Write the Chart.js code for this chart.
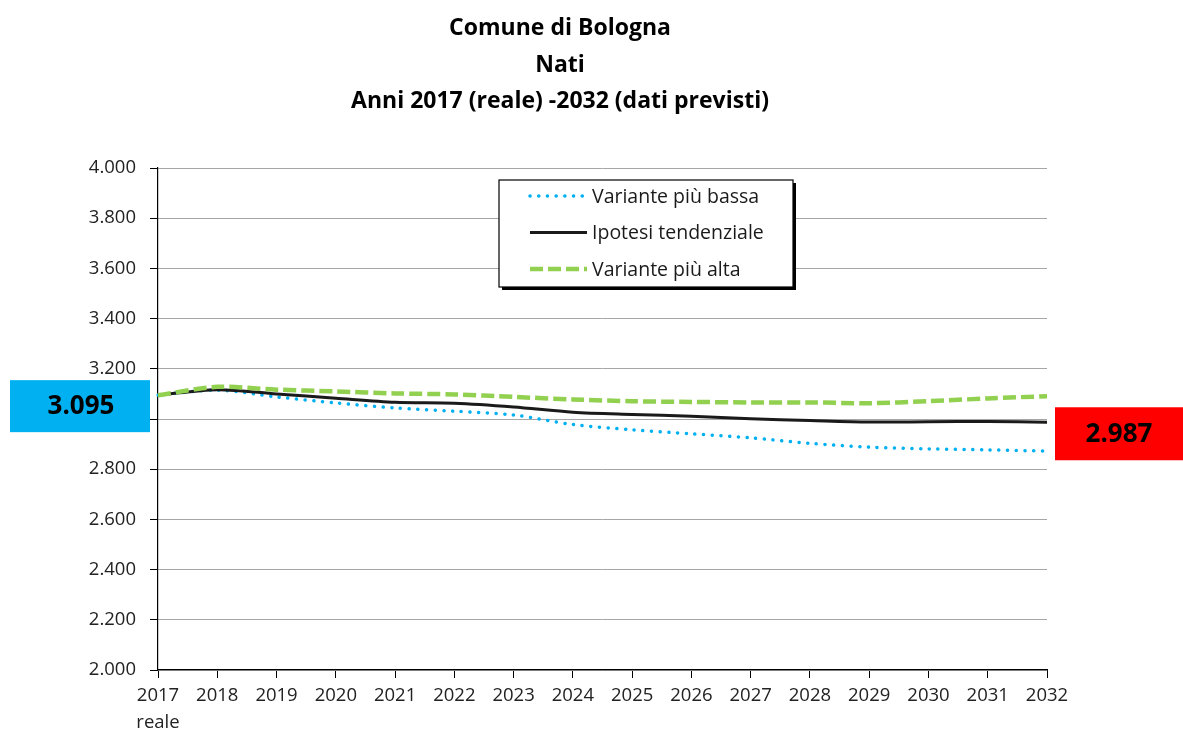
<!DOCTYPE html>
<html>
<head>
<meta charset="utf-8">
<script src="https://cdn.jsdelivr.net/npm/chart.js@4/dist/chart.umd.min.js"></script>
<style>
  html, body { margin: 0; padding: 0; background: #fff; }
  #wrap { width: 1183px; height: 731px; position: relative; }
</style>
</head>
<body>
<div id="wrap"><canvas id="natiChart"></canvas></div>
<script>
const years = ['2017', '2018', '2019', '2020', '2021', '2022', '2023', '2024',
  '2025', '2026', '2027', '2028', '2029', '2030', '2031', '2032'];

const bassa = [3095, 3115, 3088, 3064, 3044, 3031, 3016, 2978,
  2957, 2941, 2925, 2903, 2888, 2881, 2877, 2872];
const tendenziale = [3095, 3117, 3100, 3083, 3067, 3063, 3048, 3027,
  3018, 3011, 3001, 2994, 2988, 2989, 2990, 2987];
const alta = [3095, 3128, 3117, 3110, 3102, 3098, 3088, 3078,
  3071, 3068, 3066, 3066, 3063, 3071, 3082, 3091];

const seriesNames = ['Variante più bassa', 'Ipotesi tendenziale', 'Variante più alta'];
const titleLines = ['Comune di Bologna', 'Nati', 'Anni 2017 (reale) -2032 (dati previsti)'];

const FONT = "'Open Sans', 'Noto Sans', sans-serif";

// 4000 -> "4.000"
const fmt = v => Math.round(v).toString().replace(/\B(?=(\d{3})+(?!\d))/g, '.');

// title, legend box and the two value boxes
const extras = {
  id: 'extras',
  afterDraw(chart) {
    const { ctx, scales: { y } } = chart;
    ctx.save();

    // title
    ctx.fillStyle = '#000';
    ctx.font = 'bold 23px ' + FONT;
    ctx.textAlign = 'center';
    ctx.textBaseline = 'alphabetic';
    titleLines.forEach((t, i) => ctx.fillText(t, 560, 35 + i * 36.5));

    // legend
    const lx = 499, ly = 180, lw = 294, lh = 107;
    ctx.fillStyle = '#000';
    ctx.fillRect(lx + 3, ly + 3, lw, lh);
    ctx.fillStyle = '#fff';
    ctx.fillRect(lx, ly, lw, lh);
    ctx.strokeStyle = '#000';
    ctx.lineWidth = 1.2;
    ctx.strokeRect(lx, ly, lw, lh);
    ctx.font = '19.5px ' + FONT;
    ctx.textBaseline = 'middle';
    ctx.textAlign = 'left';
    chart.data.datasets.forEach((ds, i) => {
      const ry = 196 + i * 36.5;
      ctx.beginPath();
      ctx.strokeStyle = ds.borderColor;
      ctx.lineWidth = ds.borderWidth;
      ctx.lineCap = ds.borderCapStyle || 'butt';
      ctx.setLineDash(ds.borderDash || []);
      ctx.moveTo(530, ry);
      ctx.lineTo(587, ry);
      ctx.stroke();
      ctx.setLineDash([]);
      ctx.fillStyle = '#1a1a1a';
      ctx.fillText(ds.label, 592, ry + 1);
    });

    // value boxes
    const first = tendenziale[0];
    const last = tendenziale[tendenziale.length - 1];
    const y0 = y.getPixelForValue(first);
    const y1 = y.getPixelForValue(last);
    ctx.font = 'bold 26px ' + FONT;
    ctx.textAlign = 'center';
    ctx.fillStyle = '#00b0f0';
    ctx.fillRect(10, y0 - 15, 140, 52);
    ctx.fillStyle = '#000';
    ctx.fillText(fmt(first), 81, y0 + 11);
    ctx.fillStyle = '#ff0000';
    ctx.fillRect(1055, y1 - 15, 128, 53);
    ctx.fillStyle = '#000';
    ctx.fillText(fmt(last), 1119, y1 + 12);
    ctx.restore();
  }
};

new Chart(document.getElementById('natiChart'), {
  type: 'line',
  data: {
    labels: years.map(y => y === '2017' ? ['2017', 'reale'] : y),
    datasets: [{
      label: seriesNames[0],
      data: bassa,
      borderColor: '#00b0f0',
      borderWidth: 3.5,
      borderDash: [0.1, 8.6],
      borderCapStyle: 'round',
      order: 3
    }, {
      label: seriesNames[1],
      data: tendenziale,
      borderColor: '#1a1a1a',
      borderWidth: 3,
      order: 2
    }, {
      label: seriesNames[2],
      data: alta,
      borderColor: '#92d050',
      borderWidth: 4.5,
      borderDash: [13, 5],
      order: 1
    }]
  },
  options: {
    responsive: true,
    maintainAspectRatio: false,
    animation: false,
    layout: { padding: { left: 0, right: 136, top: 168, bottom: 0 } },
    elements: {
      point: { radius: 0 },
      line: { tension: 0.3 }
    },
    plugins: {
      legend: { display: false },
      tooltip: { enabled: false },
      title: { display: false }
    },
    scales: {
      x: {
        offset: false,
        afterFit: s => { s.height = 61; },
        grid: { drawOnChartArea: false, drawTicks: true, tickLength: 8, tickColor: '#000' },
        border: { color: '#000', width: 1.2 },
        ticks: { color: '#222', font: { family: FONT, size: 18.5, lineHeight: 1.45 }, padding: 4, maxRotation: 0, autoSkip: false }
      },
      y: {
        min: 2000,
        max: 4000,
        afterFit: s => { s.width = 158; },
        grid: { color: '#a6a6a6', lineWidth: 1, tickLength: 8, tickColor: '#000' },
        border: { color: '#000', width: 1.2 },
        ticks: { stepSize: 200, color: '#222', font: { family: FONT, size: 18.5 }, padding: 14, callback: v => fmt(v) }
      }
    }
  },
  plugins: [extras]
});
</script>
</body>
</html>
